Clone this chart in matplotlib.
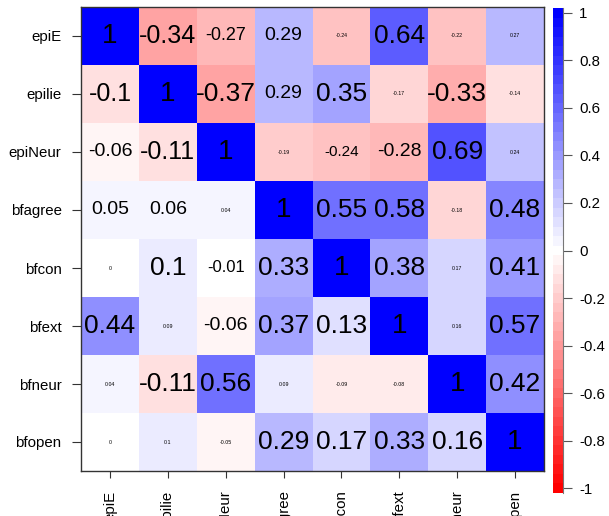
import numpy as np
import matplotlib
matplotlib.use("Agg")
import matplotlib.pyplot as plt
from matplotlib.colors import ListedColormap, BoundaryNorm

plt.rcParams['font.family'] = ['Liberation Sans', 'DejaVu Sans']

# variable names
labels = ["epiE", "epilie", "epiNeur", "bfagree", "bfcon", "bfext", "bfneur", "bfopen"]

# correlation values, one row per variable
r_epiE    = [1, -0.34, -0.27, 0.29, -0.24, 0.64, -0.22, 0.27]
r_epilie  = [-0.1, 1, -0.37, 0.29, 0.35, -0.17, -0.33, -0.14]
r_epiNeur = [-0.06, -0.11, 1, -0.19, -0.24, -0.28, 0.69, 0.24]
r_bfagree = [0.05, 0.06, 0.04, 1, 0.55, 0.58, -0.18, 0.48]
r_bfcon   = [0, 0.1, -0.01, 0.33, 1, 0.38, 0.17, 0.41]
r_bfext   = [0.44, 0.09, -0.06, 0.37, 0.13, 1, 0.16, 0.57]
r_bfneur  = [0.04, -0.11, 0.56, 0.09, -0.09, -0.08, 1, 0.42]
r_bfopen  = [0, 0.1, -0.05, 0.29, 0.17, 0.33, 0.16, 1]

# text size of each cell label (points)
s_epiE    = [20, 18, 13, 14, 3.8, 19, 3.8, 3.8]
s_epilie  = [18, 20, 19, 14, 19, 3.8, 19, 3.8]
s_epiNeur = [14, 18, 20, 3.8, 11, 14, 19, 3.8]
s_bfagree = [14, 14, 3.8, 20, 19, 19, 3.8, 19]
s_bfcon   = [3.8, 19, 12, 19, 20, 19, 3.8, 19]
s_bfext   = [19, 3.8, 14, 19, 19, 20, 3.8, 19]
s_bfneur  = [3.8, 19, 19, 3.8, 3.8, 3.8, 20, 19]
s_bfopen  = [3.8, 3.8, 3.8, 19, 19, 19, 19, 20]

R = np.array([r_epiE, r_epilie, r_epiNeur, r_bfagree, r_bfcon, r_bfext, r_bfneur, r_bfopen])
S = np.array([s_epiE, s_epilie, s_epiNeur, s_bfagree, s_bfcon, s_bfext, s_bfneur, s_bfopen])
n = len(labels)

# red - white - blue ramp with 51 steps
ncol = 51
t = np.linspace(-1, 1, ncol)
cols = []
for v in t:
    if v < 0:
        cols.append((1, 1 + v, 1 + v))
    else:
        cols.append((1 - v, 1 - v, 1))
cmap = ListedColormap(cols)
edges = np.linspace(-1 - 1 / (ncol - 1), 1 + 1 / (ncol - 1), ncol + 1)
norm = BoundaryNorm(edges, ncol)

fig = plt.figure(figsize=(6.09, 5.16), dpi=100)
ax = fig.add_axes([81 / 609, 1 - 471 / 516, 463 / 609, 464 / 516])

ax.pcolormesh(np.arange(n + 1), np.arange(n + 1), R, cmap=cmap, norm=norm)
ax.set_xlim(0, n)
ax.set_ylim(n, 0)

for i in range(n):
    for j in range(n):
        v = R[i, j]
        txt = "1" if v == 1 else ("0" if v == 0 else ("%g" % v))
        ax.text(j + 0.5, i + 0.5, txt, ha='center', va='center',
                fontsize=S[i, j], color='black')

ax.set_xticks(np.arange(n) + 0.5)
ax.set_yticks(np.arange(n) + 0.5)
ax.set_yticklabels(labels, fontsize=10.8)
ax.set_xticklabels(labels, fontsize=10.8, rotation=90, va='top', ha='center')
ax.tick_params(axis='x', length=5, pad=9, color='#333333')
ax.tick_params(axis='y', length=6.5, pad=7.5, color='#333333')
for sp in ax.spines.values():
    sp.set_color('#333333')
    sp.set_linewidth(1.0)

# colour bar
cax = fig.add_axes([553 / 609, 1 - 493 / 516, 10 / 609, 485 / 516])
cax.pcolormesh([0, 1], edges, t.reshape(-1, 1), cmap=cmap, norm=norm)
cax.set_xlim(0, 1)
cax.set_ylim(edges[0], edges[-1])
cax.set_xticks([])
ticks = np.round(np.linspace(-1, 1, 11), 1)
cax.set_yticks(ticks)
cax.set_yticklabels(["%g" % v for v in ticks], fontsize=10.8)
cax.yaxis.tick_right()
cax.tick_params(axis='y', length=6.5, pad=5, color='#555555')
for k in ['top', 'bottom', 'left']:
    cax.spines[k].set_visible(False)
cax.spines['right'].set_color('#777777')

fig.savefig("out.png", dpi=100)
